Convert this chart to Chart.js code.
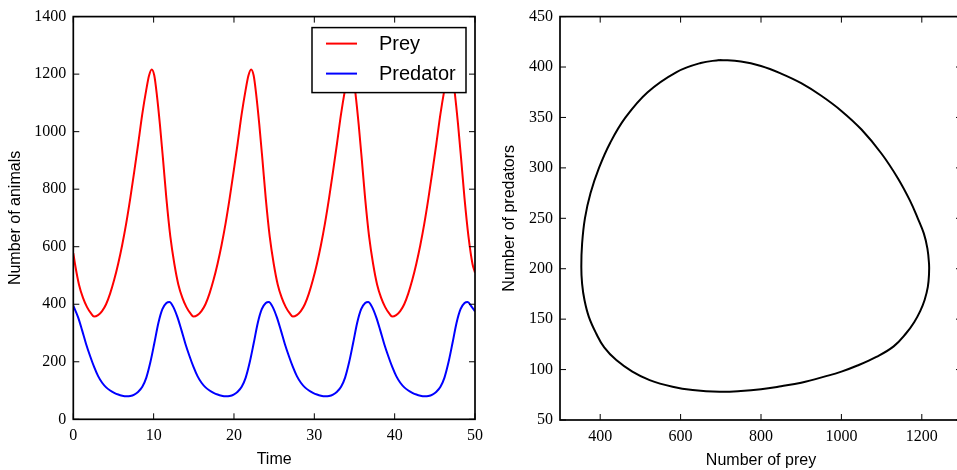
<!DOCTYPE html>
<html>
<head>
<meta charset="utf-8">
<script src="https://cdn.jsdelivr.net/npm/chart.js@4.4.0/dist/chart.umd.min.js"></script>
<style>
body { margin: 0; width: 957px; height: 470px; overflow: hidden; background: #fff; position: relative; }
#timeChart { position: absolute; left: 0; top: 0; }
#phaseChart { position: absolute; left: 490px; top: 0; }
</style>
</head>
<body>
<canvas id="timeChart" width="490" height="470"></canvas>
<canvas id="phaseChart" width="487" height="470"></canvas>
<script>
// values
var preyTime = [0, 0.21, 0.71, 1.21, 1.71, 2.21,
    2.58, 3.08, 3.58, 4.08, 4.58, 5.08, 5.58, 6.08, 6.58, 7.08, 7.58, 8.08, 8.58, 9.08, 9.43, 9.76, 10.08, 10.38, 10.78, 11.18, 11.58, 12.08, 12.58, 13.08, 13.58, 14.08, 14.58,
    14.95, 15.45, 15.95, 16.45, 16.95, 17.45, 17.95, 18.45, 18.95, 19.45, 19.95, 20.45, 20.95, 21.45, 21.80, 22.13, 22.45, 22.75, 23.15, 23.55, 23.95, 24.45, 24.95, 25.45, 25.95, 26.45, 26.95,
    27.32, 27.82, 28.32, 28.82, 29.32, 29.82, 30.32, 30.82, 31.32, 31.82, 32.32, 32.82, 33.32, 33.82, 34.17, 34.5, 34.82, 35.12, 35.52, 35.92, 36.32, 36.82, 37.32, 37.82, 38.32, 38.82, 39.32,
    39.69, 40.19, 40.69, 41.19, 41.69, 42.19, 42.69, 43.19, 43.69, 44.19, 44.69, 45.19, 45.69, 46.19, 46.54, 46.87, 47.19, 47.49, 47.89, 48.29, 48.69, 49.19, 49.69, 50];
var prey = [578, 540, 468, 422, 390, 368,
    357, 362, 376, 400, 437, 484, 540, 605, 680, 766, 860, 958, 1060, 1145, 1195, 1216, 1195, 1133, 1025, 900, 770, 635, 540, 468, 422, 390, 368,
    357, 362, 376, 400, 437, 484, 540, 605, 680, 766, 860, 958, 1060, 1145, 1195, 1216, 1195, 1133, 1025, 900, 770, 635, 540, 468, 422, 390, 368,
    357, 362, 376, 400, 437, 484, 540, 605, 680, 766, 860, 958, 1060, 1145, 1195, 1216, 1195, 1133, 1025, 900, 770, 635, 540, 468, 422, 390, 368,
    357, 362, 376, 400, 437, 484, 540, 605, 680, 766, 860, 958, 1060, 1145, 1195, 1216, 1195, 1133, 1025, 900, 770, 635, 540, 510];

var predTime = [0, 0.59, 1.09, 1.59, 2.09, 2.59, 3.09, 3.59, 4.09, 4.59, 5.09, 5.59, 6.09, 6.59, 7.09, 7.59, 8.09, 8.59, 9.09, 9.59, 10.09, 10.59, 11.09, 11.59,
    11.96, 12.46, 12.96, 13.46, 13.96, 14.46, 14.96, 15.46, 15.96, 16.46, 16.96, 17.46, 17.96, 18.46, 18.96, 19.46, 19.96, 20.46, 20.96, 21.46, 21.96, 22.46, 22.96, 23.46, 23.96,
    24.33, 24.83, 25.33, 25.83, 26.33, 26.83, 27.33, 27.83, 28.33, 28.83, 29.33, 29.83, 30.33, 30.83, 31.33, 31.83, 32.33, 32.83, 33.33, 33.83, 34.33, 34.83, 35.33, 35.83, 36.33,
    36.70, 37.20, 37.70, 38.20, 38.70, 39.20, 39.70, 40.20, 40.70, 41.20, 41.70, 42.20, 42.70, 43.20, 43.70, 44.20, 44.70, 45.20, 45.70, 46.20, 46.70, 47.20, 47.70, 48.20, 48.70,
    49.07, 49.57, 50];
var predator = [395, 355, 310, 262, 220, 182, 150, 127, 111, 100, 92, 86, 82, 80, 81, 86, 96, 113, 145, 198, 265, 335, 383, 404,
    408, 390, 355, 310, 262, 220, 182, 150, 127, 111, 100, 92, 86, 82, 80, 81, 86, 96, 113, 145, 198, 265, 335, 383, 404,
    408, 390, 355, 310, 262, 220, 182, 150, 127, 111, 100, 92, 86, 82, 80, 81, 86, 96, 113, 145, 198, 265, 335, 383, 404,
    408, 390, 355, 310, 262, 220, 182, 150, 127, 111, 100, 92, 86, 82, 80, 81, 86, 96, 113, 145, 198, 265, 335, 383, 404,
    408, 392, 375];

var phasePrey = [697, 750, 800, 850, 900, 950, 1000, 1050, 1100, 1140, 1170, 1190, 1205, 1214, 1218, 1218, 1215, 1207, 1196, 1181, 1161, 1130, 1087, 1040, 1000, 962, 900, 850, 800, 750, 697,
    630, 580, 523, 480, 440, 410, 390, 372, 361, 355, 353, 355, 362, 376, 397, 425, 463, 518, 590, 650, 697];
var phasePred = [407, 405.5, 401, 393.5, 384, 371.5, 356.5, 338, 314, 290, 268, 250, 235, 220, 205, 195, 182, 169, 158, 147, 136, 123, 112.6, 104, 98, 93.5, 87, 83.5, 80.5, 78.7, 78,
    79.7, 83, 89.6, 98, 109.4, 122, 135.8, 152, 168.7, 185, 202, 225, 250, 275, 300, 325, 350, 375, 395, 404, 407];

var timeTicks = [0, 10, 20, 30, 40, 50];
var animalTicks = [0, 200, 400, 600, 800, 1000, 1200, 1400];
var preyTicks = [400, 600, 800, 1000, 1200];
var predatorTicks = [50, 100, 150, 200, 250, 300, 350, 400, 450];

const serif = "'Liberation Serif', 'DejaVu Serif', serif";
const sans = "'Liberation Sans', Arial, sans-serif";

Chart.defaults.color = '#000';
Chart.defaults.animation = false;

function points(xs, ys) {
    var result = [];
    for (var i = 0; i < xs.length; i++) {
        result.push({ x: xs[i], y: ys[i] });
    }
    return result;
}

function tickList(values) {
    return function (scale) {
        scale.ticks = values.map(v => ({ value: v }));
    };
}

function axis(min, max, values, title, size, titlePad) {
    return {
        type: 'linear',
        min: min,
        max: max,
        afterBuildTicks: tickList(values),
        afterFit: function (scale) {
            if (scale.isHorizontal()) scale.height = size;
            else scale.width = size;
        },
        grid: { display: false, drawTicks: false },
        border: { display: false },
        ticks: {
            font: { family: serif, size: 16 },
            color: '#000',
            padding: 7,
            maxRotation: 0,
            callback: v => String(v)
        },
        title: {
            display: true,
            text: title,
            color: '#000',
            font: { family: sans, size: 16 },
            padding: titlePad
        }
    };
}

// matplotlib-like box with inward ticks on all four sides
var framePlugin = {
    id: 'frame',
    afterDatasetsDraw: function (chart) {
        const ctx = chart.ctx;
        const area = chart.chartArea;
        const xs = chart.scales.x;
        const ys = chart.scales.y;
        ctx.save();
        ctx.strokeStyle = '#000';
        ctx.lineWidth = 1;
        ctx.beginPath();
        xs.ticks.forEach(t => {
            const px = xs.getPixelForValue(t.value);
            ctx.moveTo(px, area.bottom);
            ctx.lineTo(px, area.bottom - 6);
            ctx.moveTo(px, area.top);
            ctx.lineTo(px, area.top + 6);
        });
        ys.ticks.forEach(t => {
            const py = ys.getPixelForValue(t.value);
            ctx.moveTo(area.left, py);
            ctx.lineTo(area.left + 6, py);
            ctx.moveTo(area.right, py);
            ctx.lineTo(area.right - 6, py);
        });
        ctx.stroke();
        ctx.lineWidth = 1.7;
        ctx.strokeRect(area.left, area.top, area.right - area.left, area.bottom - area.top);
        ctx.restore();
    }
};

// legend box drawn above the lines, top right of the plot
var boxLegend = {
    id: 'boxLegend',
    afterDraw: function (chart) {
        const ctx = chart.ctx;
        const area = chart.chartArea;
        const left = area.right - 163;
        const top = area.top + 11;
        ctx.save();
        ctx.fillStyle = '#fff';
        ctx.fillRect(left, top, 154, 65);
        ctx.strokeStyle = '#000';
        ctx.lineWidth = 1.5;
        ctx.strokeRect(left, top, 154, 65);
        ctx.font = '20px ' + sans;
        ctx.textBaseline = 'middle';
        chart.data.datasets.forEach((ds, i) => {
            const y = top + 16 + i * 30;
            ctx.strokeStyle = ds.borderColor;
            ctx.lineWidth = 2;
            ctx.beginPath();
            ctx.moveTo(left + 14, y);
            ctx.lineTo(left + 45, y);
            ctx.stroke();
            ctx.fillStyle = '#000';
            ctx.fillText(ds.label, left + 67, y + 1);
        });
        ctx.restore();
    }
};

function writeTimeChart() {
    const ctx = document.getElementById('timeChart').getContext('2d');
    return new Chart(ctx, {
        type: 'line',
        data: {
            datasets: [{
                label: 'Prey',
                data: points(preyTime, prey),
                borderColor: '#ff0000',
                borderWidth: 2,
                pointRadius: 0,
                cubicInterpolationMode: 'monotone',
                fill: false
            }, {
                label: 'Predator',
                data: points(predTime, predator),
                borderColor: '#0000ff',
                borderWidth: 2,
                pointRadius: 0,
                cubicInterpolationMode: 'monotone',
                fill: false
            }]
        },
        options: {
            responsive: false,
            layout: { padding: { top: 15.7, right: 15, bottom: 0, left: 0 } },
            plugins: { legend: { display: false }, tooltip: { enabled: false } },
            scales: {
                x: axis(0, 50, timeTicks, 'Time', 50.7, { top: 0, bottom: 1 }),
                y: axis(0, 1400, animalTicks, 'Number of animals', 73.3, { top: 6, bottom: 0 })
            }
        },
        plugins: [framePlugin, boxLegend]
    });
}

function writePhaseChart() {
    const ctx = document.getElementById('phaseChart').getContext('2d');
    return new Chart(ctx, {
        type: 'scatter',
        data: {
            datasets: [{
                label: 'cycle',
                data: points(phasePrey, phasePred),
                borderColor: '#000',
                borderWidth: 2,
                pointRadius: 0,
                showLine: true,
                tension: 0.4,
                fill: false
            }]
        },
        options: {
            responsive: false,
            layout: { padding: { top: 15.7, right: 15, bottom: 0, left: 0 } },
            plugins: { legend: { display: false }, tooltip: { enabled: false } },
            scales: {
                x: axis(300, 1300, preyTicks, 'Number of prey', 50, { top: 0, bottom: 0 }),
                y: axis(50, 450, predatorTicks, 'Number of predators', 70, { top: 10.4, bottom: 0 })
            }
        },
        plugins: [framePlugin]
    });
}

writeTimeChart();
writePhaseChart();
</script>
</body>
</html>
